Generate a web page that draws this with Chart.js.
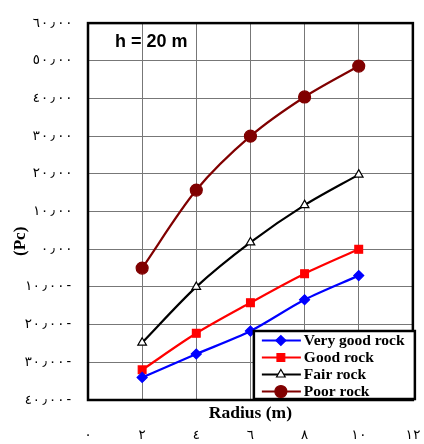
<!DOCTYPE html>
<html>
<head>
<meta charset="utf-8">
<script src="https://cdn.jsdelivr.net/npm/chart.js@4"></script>
<style>
  html, body { margin: 0; padding: 0; background: #fff; }
  #wrap { width: 424px; height: 444px; }
</style>
</head>
<body>
<div id="wrap"><canvas id="chart"></canvas></div>
<script>
const radius = [2, 4, 6, 8, 10]
const veryGoodRock = [-34, -27.8, -21.7, -13.4, -7]
const goodRock = [-32, -22.3, -14.2, -6.5, 0]
const fairRock = [-24.8, -10, 1.8, 11.7, 19.8]
const poorRock = [-5, 15.7, 30, 40.4, 48.6]

const seriesNames = ['Very good rock', 'Good rock', 'Fair rock', 'Poor rock']

const yTicks = [-40, -30, -20, -10, 0, 10, 20, 30, 40, 50, 60]
const yTickLabels = ['٤٠٫٠٠-', '٣٠٫٠٠-', '٢٠٫٠٠-', '١٠٫٠٠-', '٠٫٠٠', '١٠٫٠٠', '٢٠٫٠٠', '٣٠٫٠٠', '٤٠٫٠٠', '٥٠٫٠٠', '٦٠٫٠٠']
const xTicks = [0, 2, 4, 6, 8, 10, 12]
const xTickLabels = ['٠', '٢', '٤', '٦', '٨', '١٠', '١٢']

const serif = '"Liberation Serif", "Times New Roman", serif'
const tickFont = { family: '"DejaVu Sans Mono", "DejaVu Sans", monospace', size: 13.5 }

function points(values) {
  return values.map((v, i) => ({ x: radius[i], y: v }))
}

// frame round the plot, like the thick Excel border
const plotFrame = {
  id: 'plotFrame',
  afterDatasetsDraw(chart) {
    const { ctx, chartArea: a } = chart
    ctx.save()
    ctx.strokeStyle = '#000'
    ctx.lineWidth = 2.5
    ctx.strokeRect(a.left, a.top, a.right - a.left, a.bottom - a.top)
    ctx.restore()
  }
}

// boxed legend sitting in the lower right corner + the "h = 20 m" note
const boxLegend = {
  id: 'boxLegend',
  afterDraw(chart) {
    const { ctx, chartArea: a } = chart
    const w = 161, h = 68
    const left = a.right + 2 - w
    const top = a.bottom - h - 1
    ctx.save()
    ctx.fillStyle = '#fff'
    ctx.fillRect(left, top, w, h)
    ctx.strokeStyle = '#000'
    ctx.lineWidth = 2.5
    ctx.strokeRect(left, top, w, h)

    ctx.font = 'bold 15.5px ' + serif
    ctx.textBaseline = 'middle'
    chart.data.datasets.forEach((ds, i) => {
      const y = top + 9.5 + i * 17
      ctx.strokeStyle = ds.borderColor
      ctx.lineWidth = 2.2
      ctx.beginPath()
      ctx.moveTo(left + 8, y)
      ctx.lineTo(left + 47, y)
      ctx.stroke()
      ctx.fillStyle = ds.pointBackgroundColor
      ctx.strokeStyle = ds.borderColor
      ctx.lineWidth = ds.pointBorderWidth
      Chart.helpers.drawPoint(ctx, {
        pointStyle: ds.pointStyle,
        radius: ds.pointRadius,
        borderWidth: ds.pointBorderWidth,
        rotation: 0
      }, left + 27, y)
      ctx.fillStyle = '#000'
      ctx.fillText(ds.label, left + 50, y + 0.5)
    })

    ctx.font = 'bold 18px "Liberation Sans", Arial, sans-serif'
    ctx.fillStyle = '#000'
    ctx.textBaseline = 'middle'
    ctx.fillText('h = 20 m', a.left + 27, a.top + 19)
    ctx.restore()
  }
}

function dataset(label, values, color, style, radiusPx, fill) {
  return {
    label: label,
    data: points(values),
    borderColor: color,
    backgroundColor: color,
    pointBackgroundColor: fill || color,
    pointBorderColor: color,
    pointStyle: style,
    pointRadius: radiusPx,
    pointHoverRadius: radiusPx,
    pointBorderWidth: 1.2,
    borderWidth: 2.2,
    tension: 0.3
  }
}

new Chart(document.getElementById('chart'), {
  type: 'line',
  data: {
    datasets: [
      dataset(seriesNames[0], veryGoodRock, '#0000FF', 'rectRot', 5),
      dataset(seriesNames[1], goodRock, '#FF0000', 'rect', 5.5),
      dataset(seriesNames[2], fairRock, '#000000', 'triangle', 5, '#FFFFFF'),
      dataset(seriesNames[3], poorRock, '#800000', 'circle', 6)
    ]
  },
  options: {
    responsive: true,
    maintainAspectRatio: false,
    animation: false,
    layout: { padding: { top: 20, right: 10, bottom: 0, left: 0 } },
    plugins: {
      legend: { display: false },
      tooltip: { enabled: false }
    },
    scales: {
      x: {
        type: 'linear',
        position: 'bottom',
        min: 0,
        max: 12,
        weight: 0,
        afterBuildTicks(scale) { scale.ticks = xTicks.map(v => ({ value: v })) },
        ticks: { display: false },
        grid: { color: '#777777', lineWidth: 1, drawTicks: false },
        border: { display: false },
        title: {
          display: true,
          text: 'Radius (m)',
          color: '#000',
          font: { family: serif, size: 17.5, weight: 'bold' },
          padding: { top: 0, bottom: 0 }
        },
        afterFit(scale) { scale.height = 24 }
      },
      x2: {
        type: 'linear',
        position: 'bottom',
        min: 0,
        max: 12,
        weight: 1,
        afterBuildTicks(scale) { scale.ticks = xTicks.map(v => ({ value: v })) },
        ticks: {
          color: '#000',
          font: tickFont,
          padding: 3,
          maxRotation: 0,
          callback: (v) => xTickLabels[xTicks.indexOf(v)]
        },
        grid: { display: false, drawTicks: false },
        border: { display: false },
        afterFit(scale) { scale.height = 20 }
      },
      y: {
        min: -40,
        max: 60,
        afterBuildTicks(scale) { scale.ticks = yTicks.map(v => ({ value: v })) },
        ticks: {
          color: '#000',
          font: tickFont,
          padding: 15,
          callback: (v) => yTickLabels[yTicks.indexOf(v)]
        },
        grid: { color: '#777777', lineWidth: 1, drawTicks: false },
        border: { display: false },
        title: {
          display: true,
          text: '(Pc)\u2003\u2003\u2003\u2002',
          color: '#000',
          font: { family: serif, size: 17, weight: 'bold' },
          padding: { top: 10, bottom: 0 }
        },
        afterFit(scale) { scale.width = 88 }
      }
    }
  },
  plugins: [plotFrame, boxLegend]
})
</script>
</body>
</html>
